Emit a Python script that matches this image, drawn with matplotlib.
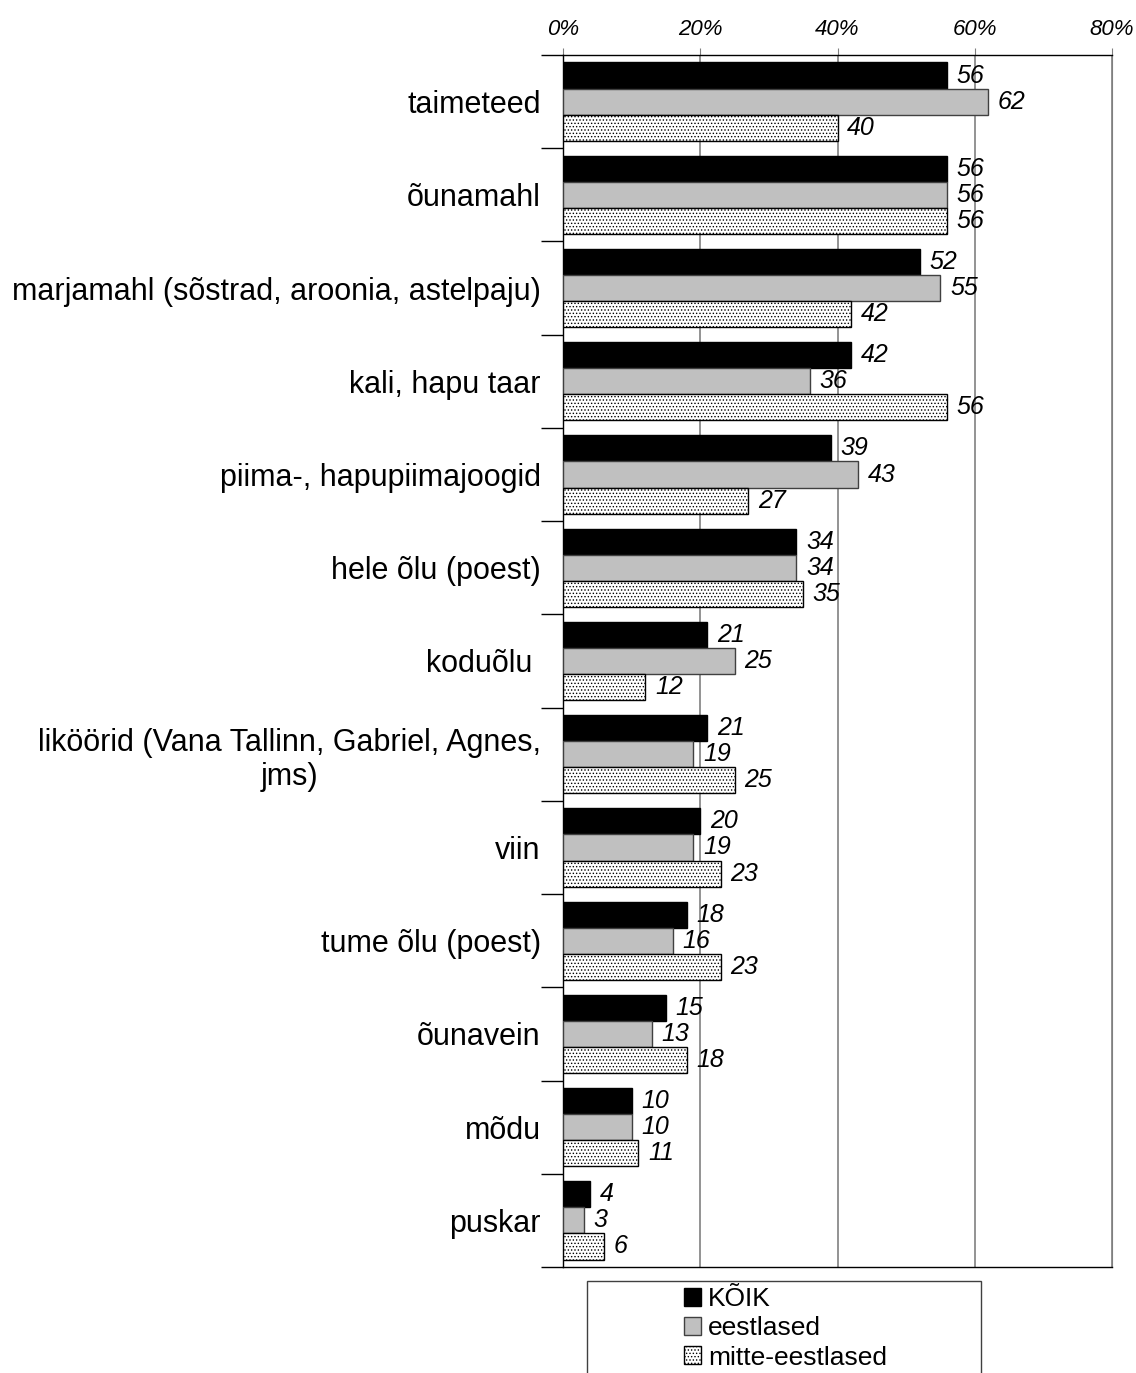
import numpy as np
import matplotlib.pyplot as plt
from matplotlib.patches import Rectangle
from matplotlib.ticker import FixedLocator

plt.rcParams['font.family'] = ['Liberation Sans', 'DejaVu Sans']
plt.rcParams['hatch.linewidth'] = 0.6

categories = ['taimeteed', 'õunamahl', 'marjamahl (sõstrad, aroonia, astelpaju)',
              'kali, hapu taar', 'piima-, hapupiimajoogid', 'hele õlu (poest)',
              'koduõlu ', 'liköörid (Vana Tallinn, Gabriel, Agnes,\njms)', 'viin',
              'tume õlu (poest)', 'õunavein', 'mõdu', 'puskar']
koik = [56, 56, 52, 42, 39, 34, 21, 21, 20, 18, 15, 10, 4]
eestlased = [62, 56, 55, 36, 43, 34, 25, 19, 19, 16, 13, 10, 3]
mitte = [40, 56, 42, 56, 27, 35, 12, 25, 23, 23, 18, 11, 6]
series_names = ['KÕIK', 'eestlased', 'mitte-eestlased']
x_ticks = [0, 20, 40, 60, 80]

fig = plt.figure(figsize=(11.36, 13.73), dpi=100)
ax = fig.add_axes([563/1136, 1-1267/1373, (1112-563)/1136, (1267-55)/1373])

y = np.arange(len(categories))
h = 0.28
styles = [dict(color='black', edgecolor='black'),
          dict(color='#c0c0c0', edgecolor='#404040'),
          dict(color='white', edgecolor='black', hatch='.....')]
handles = []
for k, (vals, st) in enumerate(zip([koik, eestlased, mitte], styles)):
    bars = ax.barh(y + (k-1)*h, vals, height=h, linewidth=1, zorder=3, label=series_names[k], **st)
    handles.append(bars)
    for yy, v in zip(y + (k-1)*h, vals):
        ax.text(v + 1.4, yy, str(v), va='center', ha='left', fontsize=18, style='italic', zorder=4)

ax.set_xlim(0, 80)
ax.set_ylim(len(categories)-0.5, -0.5)
ax.xaxis.tick_top()
ax.set_xticks(x_ticks)
ax.set_xticklabels([f'{t}%' for t in x_ticks], style='italic', fontsize=16)
ax.tick_params(axis='x', direction='out', length=5, color='#808080', pad=6)
for t in x_ticks[1:]:
    ax.axvline(t, color='#808080', lw=1.2, zorder=1)

ax.set_yticks(y)
ax.set_yticklabels(categories, fontsize=22, multialignment='center')
ax.tick_params(axis='y', length=0, pad=16)
ax.yaxis.set_minor_locator(FixedLocator(np.arange(len(categories)+1) - 0.5))
ax.tick_params(axis='y', which='minor', length=16, width=1, direction='out')

for s in ['top', 'left', 'bottom']:
    ax.spines[s].set_color('black')
    ax.spines[s].set_linewidth(1)
ax.spines['right'].set_color('#808080')

fig.patches.append(Rectangle((587/1136, -0.02), (981-587)/1136, 0.02+1-1281/1373,
                             transform=fig.transFigure, fill=False, edgecolor='#404040', lw=1))
fig.legend(handles=handles, loc='upper left', bbox_to_anchor=(684/1136, 1-1287/1373),
           frameon=False, fontsize=19, handlelength=0.65, handleheight=0.65,
           handletextpad=0.25, labelspacing=0.2, borderaxespad=0, borderpad=0)

fig.savefig('out.png', dpi=100)
